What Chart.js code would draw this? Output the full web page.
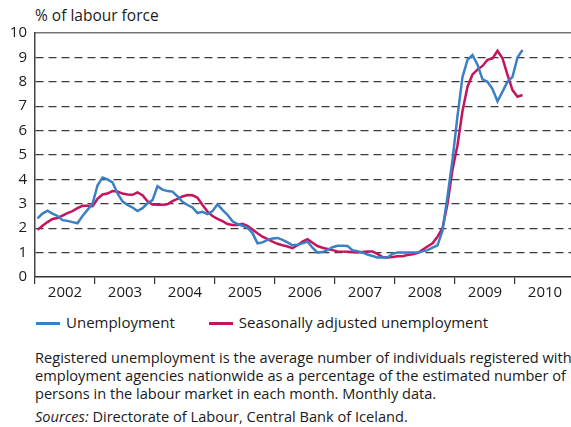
<!DOCTYPE html>
<html>
<head>
<meta charset="utf-8">
<script src="https://cdn.jsdelivr.net/npm/chart.js@4"></script>
<style>
  body { margin: 0; width: 571px; height: 427px; overflow: hidden; background: #fff;
         font-family: "Open Sans", sans-serif; color: #1a1a1a; position: relative; }
  #wrap { position: absolute; left: 0; top: 0; width: 571px; height: 310px; }
  .title { position: absolute; left: 35px; top: 4px; font-size: 15.5px; }
  .legend { position: absolute; left: 36px; top: 312px; font-size: 15px; white-space: nowrap; }
  .legend span.item { display: inline-block; margin-right: 34px; }
  .legend i { display: inline-block; width: 24px; height: 3px; vertical-align: middle; margin-right: 6px; }
  .note { position: absolute; left: 35px; top: 348px; font-size: 14.6px; line-height: 18px; white-space: nowrap; }
  .src { position: absolute; left: 35px; top: 406px; font-size: 14.6px; white-space: nowrap; }
</style>
</head>
<body>
<div class="title">% of labour force</div>
<div id="wrap"><canvas id="chart" width="571" height="310"></canvas></div>
<div class="legend">
  <span class="item"><i style="background:#3b7fc4"></i>Unemployment</span><span class="item"><i style="background:#c4145e"></i>Seasonally adjusted unemployment</span>
</div>
<div class="note">Registered unemployment is the average number of individuals registered with<br>employment agencies nationwide as a percentage of the estimated number of<br>persons in the labour market in each month. Monthly data.</div>
<div class="src"><em>Sources:</em> Directorate of Labour, Central Bank of Iceland.</div>

<script>
// monthly, Jan 2002 - Feb 2010
const years = ['2002', '2003', '2004', '2005', '2006', '2007', '2008', '2009', '2010'];

const unemployment = [
  2.4, 2.6, 2.72, 2.6, 2.5, 2.33, 2.3, 2.25, 2.2, 2.5, 2.75, 3.0,
  3.75, 4.08, 4.0, 3.88, 3.43, 3.1, 2.95, 2.85, 2.7, 2.82, 3.02, 3.15,
  3.72, 3.58, 3.52, 3.5, 3.3, 3.08, 2.95, 2.85, 2.62, 2.67, 2.58, 2.7,
  2.98, 2.75, 2.55, 2.28, 2.17, 2.1, 2.02, 1.8, 1.38, 1.42, 1.52, 1.58,
  1.6, 1.52, 1.42, 1.3, 1.32, 1.38, 1.45, 1.2, 1.0, 1.02, 1.1, 1.22,
  1.28, 1.28, 1.27, 1.1, 1.06, 1.0, 0.92, 0.86, 0.8, 0.8, 0.8, 0.95,
  1.0, 1.0, 1.0, 1.0, 1.0, 1.05, 1.1, 1.2, 1.3, 1.9, 3.3, 4.8,
  6.6, 8.2, 8.9, 9.1, 8.7, 8.1, 8.0, 7.7, 7.2, 7.6, 8.0, 8.2,
  9.0, 9.3
];

const seasonallyAdjusted = [
  1.93, 2.1, 2.25, 2.38, 2.42, 2.52, 2.62, 2.7, 2.82, 2.92, 2.92, 2.9,
  3.2, 3.38, 3.42, 3.52, 3.5, 3.42, 3.38, 3.37, 3.47, 3.35, 3.1, 2.97,
  2.96, 2.96, 2.98, 3.11, 3.2, 3.3, 3.36, 3.35, 3.25, 2.95, 2.68, 2.5,
  2.38, 2.29, 2.17, 2.13, 2.13, 2.18, 2.1, 1.95, 1.79, 1.65, 1.55, 1.45,
  1.36, 1.3, 1.25, 1.18, 1.3, 1.45, 1.55, 1.4, 1.27, 1.2, 1.15, 1.1,
  1.05, 1.04, 1.03, 1.02, 1.0, 1.02, 1.04, 1.04, 0.95, 0.82, 0.8, 0.82,
  0.85, 0.85, 0.9, 0.93, 0.98, 1.12, 1.25, 1.38, 1.65, 2.0, 3.0, 4.4,
  5.4, 6.8, 7.8, 8.3, 8.5, 8.65, 8.9, 8.96, 9.27, 8.96, 8.28, 7.66,
  7.39, 7.46
];

const yTicks = [0, 1, 2, 3, 4, 5, 6, 7, 8, 9, 10];

const font = { family: 'Open Sans', size: 15 };
// months shown on the x axis (window cuts off the end of 2010)
const monthsShown = 107.2;

const toPoints = arr => arr.map((v, i) => ({ x: i + 0.5, y: v }));

new Chart(document.getElementById('chart'), {
  type: 'line',
  data: {
    datasets: [
      {
        label: 'Unemployment',
        data: toPoints(unemployment),
        borderColor: '#3b7fc4',
        borderWidth: 2.5,
        pointRadius: 0,
        tension: 0
      },
      {
        label: 'Seasonally adjusted unemployment',
        data: toPoints(seasonallyAdjusted),
        borderColor: '#c4145e',
        borderWidth: 2.5,
        pointRadius: 0,
        tension: 0
      }
    ]
  },
  options: {
    responsive: false,
    animation: false,
    layout: { padding: { top: 33, left: 0, right: 0, bottom: 0 } },
    plugins: { legend: { display: false }, tooltip: { enabled: false } },
    scales: {
      x: {
        type: 'linear',
        min: 0,
        max: monthsShown,
        afterBuildTicks: s => { s.ticks = years.map((y, i) => ({ value: i * 12 })); },
        ticks: {
          callback: (v, i) => years[i],
          labelOffset: 30,
          autoSkip: false,
          maxRotation: 0,
          padding: 0,
          color: '#1a1a1a',
          font: font
        },
        grid: { drawOnChartArea: false, drawTicks: true, tickLength: 7, color: '#333', lineWidth: 1.2 },
        border: { color: '#333', width: 1.5 },
        afterFit: s => { s.height = 33; }
      },
      xTop: {
        type: 'linear',
        position: 'top',
        min: 0,
        max: monthsShown,
        ticks: { display: false },
        grid: { display: false, drawTicks: false },
        border: { color: '#777', width: 1.5 },
        afterFit: s => { s.height = 0; }
      },
      y: {
        min: 0,
        max: 10,
        afterBuildTicks: s => { s.ticks = yTicks.map(v => ({ value: v })); },
        ticks: { padding: 8, color: '#1a1a1a', font: font },
        grid: {
          drawTicks: false,
          lineWidth: 1.2,
          color: c => (c.tick && (c.tick.value === 0 || c.tick.value === 10)) ? 'rgba(0,0,0,0)' : '#3a3a3a'
        },
        border: { color: '#444', width: 1.5, dash: [8, 5] },
        afterFit: s => { s.width = 35; }
      }
    }
  }
});
</script>
</body>
</html>
